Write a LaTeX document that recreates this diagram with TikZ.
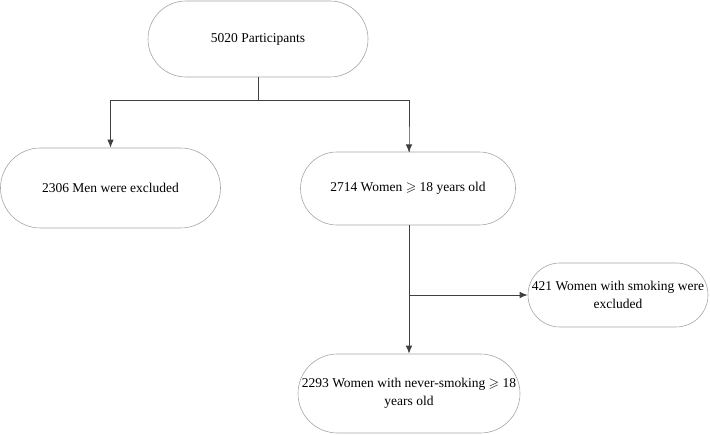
\documentclass[tikz,border=0pt]{standalone}
\usepackage{amssymb}
\usepackage{fontspec}
\setmainfont{Liberation Serif}
\usetikzlibrary{arrows.meta}
\begin{document}
\begin{tikzpicture}[x=1pt,y=-1pt,
  box/.style={draw=black!35, line width=0.6pt, fill=white, align=center,
    font=\fontsize{13.5}{18}\selectfont, inner sep=0pt},
  arr/.style={draw=black!75, line width=0.9pt, -{Latex[length=8pt,width=6.5pt]}},
  ln/.style={draw=black!75, line width=0.9pt}]
\useasboundingbox (0,0) rectangle (710,435);
\node[box, minimum width=220pt, minimum height=76pt, rounded corners=38pt] (top) at (258,39) {5020 Participants};
\node[box, minimum width=220pt, minimum height=80pt, rounded corners=40pt] (men) at (110.5,188) {2306 Men were excluded};
\node[box, minimum width=215pt, minimum height=73pt, rounded corners=36.5pt] (women) at (408,188.5) {2714 Women $\geqslant$ 18 years old};
\node[box, minimum width=180pt, minimum height=64pt, rounded corners=32pt] (smoke) at (618,295) {421 Women with smoking were\\excluded};
\node[box, minimum width=222pt, minimum height=79pt, rounded corners=39.5pt] (final) at (409,393.5) {2293 Women with never-smoking $\geqslant$ 18\\years old};
\coordinate (split) at (258,100);
\coordinate (br) at (409,295);
\draw[ln] (top.south) -- (split);
\draw[arr] (split) -| (men.north);
\draw[arr] (split) -| (409,152) -- (409,152.5);
\draw[ln] (women.south -| br) -- (br);
\draw[arr] (br) -- (final.north -| br);
\draw[arr] (br) -- (smoke.west);
\end{tikzpicture}
\end{document}
